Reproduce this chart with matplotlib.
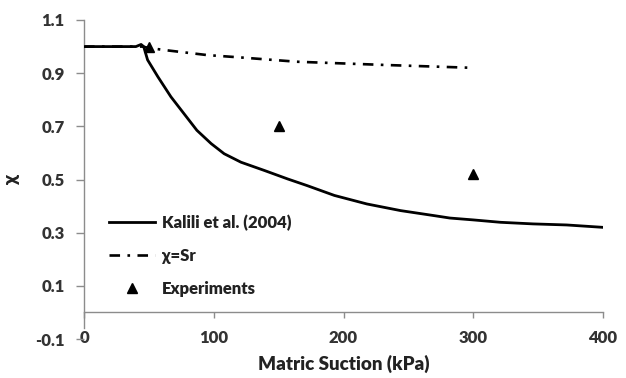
import matplotlib
matplotlib.use("Agg")
import matplotlib.pyplot as plt
from matplotlib.lines import Line2D

plt.rcParams['font.family'] = ['Lato', 'DejaVu Sans']
plt.rcParams['font.weight'] = 'heavy'

# Kalili et al. (2004) curve
kalili_x = [0, 40, 44, 46, 49, 57, 67, 77, 87, 98, 108, 121, 139, 157, 172,
            193, 218, 244, 270, 282, 300, 321, 346, 372, 400]
kalili_y = [1.0, 1.0, 1.008, 1.0, 0.95, 0.886, 0.811, 0.748, 0.685, 0.635, 0.597,
            0.565, 0.534, 0.502, 0.477, 0.44, 0.408, 0.383, 0.364, 0.355, 0.348,
            0.339, 0.333, 0.329, 0.32]

# chi = Sr curve
sr_x = [0, 45, 50, 62, 95, 121, 164, 231, 300]
sr_y = [1.0, 1.0, 0.995, 0.987, 0.968, 0.959, 0.943, 0.931, 0.92]

# Experiments
exp_x = [50, 150, 300]
exp_y = [1.0, 0.70, 0.52]

xticks = [0, 100, 200, 300, 400]
yticks = [-0.1, 0.1, 0.3, 0.5, 0.7, 0.9, 1.1]

W = 'heavy'

fig = plt.figure(figsize=(6.26, 3.78), dpi=100)
ax = fig.add_axes([84/626, 1 - 339/378, 519/626, 319/378])

ax.plot(sr_x, sr_y, color='black', lw=1.9, linestyle=(0, (4, 2.8, 1, 2.8)),
        label='χ=Sr', zorder=2)
ax.plot(kalili_x, kalili_y, color='black', lw=2.0, label='Kalili et al. (2004)', zorder=3)
ax.plot(exp_x, exp_y, linestyle='none', marker='^', color='black', markersize=7,
        label='Experiments', zorder=4)

ax.set_xlim(0, 400)
ax.set_ylim(-0.1, 1.1)
ax.set_xticks(xticks)
ax.set_yticks(yticks)
ax.set_yticklabels([f"{v:.1f}" for v in yticks])
ax.set_xticklabels([str(v) for v in xticks])

for s in ['top', 'right']:
    ax.spines[s].set_visible(False)
ax.spines['bottom'].set_position(('data', 0))
ax.spines['left'].set_bounds(-0.06, 1.1)
ax.spines['left'].set_color('#8c8c8c')
ax.spines['bottom'].set_color('#8c8c8c')
ax.spines['left'].set_linewidth(1.0)
ax.spines['bottom'].set_linewidth(1.0)

ax.tick_params(axis='y', direction='out', length=6, width=1.0, color='#8c8c8c',
               pad=8, labelsize=12, labelcolor='#333333')
ax.tick_params(axis='x', direction='out', length=4, width=1.0, color='#8c8c8c',
               pad=9, labelsize=12, labelcolor='#333333')
for lab in ax.get_xticklabels() + ax.get_yticklabels():
    lab.set_fontweight(W)

ax.set_xlabel('Matric Suction (kPa)', fontsize=13.5, fontweight=W, color='#222222')
ax.xaxis.set_label_coords(0.5, -0.05)
ax.set_ylabel('χ', fontsize=14, fontweight=W, color='#222222')
ax.yaxis.set_label_coords(-0.123, 0.5)

handles = [
    Line2D([], [], color='black', lw=2.0),
    Line2D([], [], color='black', lw=1.9, linestyle=(0, (4, 2.8, 1, 2.8))),
    Line2D([], [], color='black', marker='^', linestyle='none', markersize=7),
]
labels = ['Kalili et al. (2004)', 'χ=Sr', 'Experiments']
leg = ax.legend(handles, labels, loc='upper left', bbox_to_anchor=(0.035, 0.41),
                frameon=False, fontsize=12, handlelength=2.8, handletextpad=0.4,
                labelspacing=1.0, borderaxespad=0)
for t in leg.get_texts():
    t.set_fontweight(W)
    t.set_color('#222222')

fig.savefig('out.png', dpi=100, facecolor='white')
